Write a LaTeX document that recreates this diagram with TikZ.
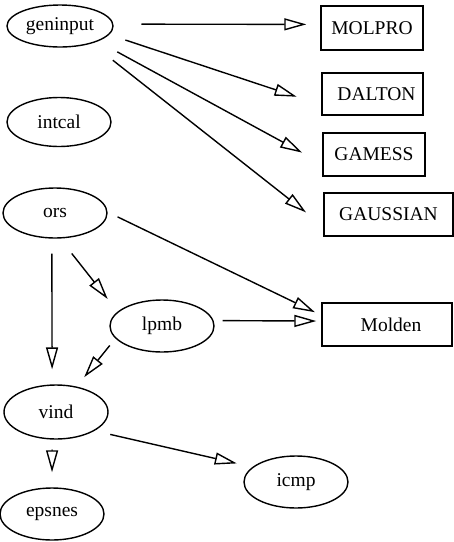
\documentclass[tikz,border=0pt]{standalone}
\usepackage{fontspec}
\setmainfont{Liberation Serif}
\usepackage{tikz}
\usetikzlibrary{shapes.geometric, arrows.meta}
\tikzstyle{arrow} = [line width=1.4pt,-{Triangle[open,length=22pt,width=12pt]}]

\begin{document}
\begin{tikzpicture}[x=1pt, y=-1pt,
				prognode/.style= {draw, ellipse, line width=1.4pt, inner sep=0pt, minimum width=104pt, minimum height=52pt, font={\fontsize{19.5}{22}\selectfont}},
				filenode/.style= {draw, rectangle, line width=1.4pt, inner sep=0pt, minimum width=102pt, minimum height=43pt, font={\fontsize{19.5}{22}\selectfont}}
			]
			\useasboundingbox (0,0) rectangle (454,542);
			
			\node (geninput) [prognode, minimum width=106pt, minimum height=42pt] at (60,26) {geninput};
			\node (intcal) [prognode, minimum height=49pt] at (59,122) {intcal};
			\node (ors) [prognode, minimum height=50pt] at (55,213) {ors};
			\node (lpmb) [prognode] at (162,326) {lpmb};
			\node (vind) [prognode, minimum height=54pt] at (56,412) {vind};
			\node (epsnes) [prognode] at (52,514) {epsnes};
			\node (icmp) [prognode] at (296,482) {icmp};
			
			\node (MOLPRO) [filenode, minimum height=44pt] at (372,28) {MOLPRO};
			\node (DALTON) [filenode, minimum width=101pt, minimum height=42pt] at (372.5,94) {\hspace{8pt}DALTON};
			\node (GAMESS) [filenode] at (374,154.5) {GAMESS};
			\node (GAUSSIAN) [filenode, minimum width=129pt] at (388.5,214.5) {GAUSSIAN\hspace{11pt}};
			\node (Molden) [filenode, minimum width=130pt] at (387,324.5) {\hspace{8pt}Molden};
			
			\draw [arrow, shorten <=28pt, shorten >=14pt] (geninput.2) -- (MOLPRO.176);
			\draw [arrow, shorten <=17pt, shorten >=26pt] (geninput.-10) -- (DALTON.192);
			\draw [arrow, shorten <=22pt, shorten >=23pt] (geninput.-22) -- (GAMESS.190);
			\draw [arrow, shorten <=27pt, shorten >=22pt] (geninput.-29) -- (GAUSSIAN.190);
			
			\draw [arrow, shorten <=11pt, shorten >=7pt] (ors.1) -- (Molden.172);
			\draw [arrow, shorten <=15pt, shorten >=15pt] (ors.263) -- (vind.98);
			\draw [arrow, shorten <=19pt, shorten >=16pt] (ors.-79) -- (lpmb.162);
			\draw [arrow, shorten <=9pt, shorten >=5pt] (lpmb.6) -- (Molden.177);
			\draw [arrow, shorten <=9pt, shorten >=12pt] (lpmb.195) -- (vind.51);
			\draw [arrow, shorten <=10pt, shorten >=15pt] (vind.262) -- (epsnes.90);
			\draw [arrow, shorten <=16pt, shorten >=16pt] (vind.-26) -- (icmp.161);
		\end{tikzpicture}
\end{document}
